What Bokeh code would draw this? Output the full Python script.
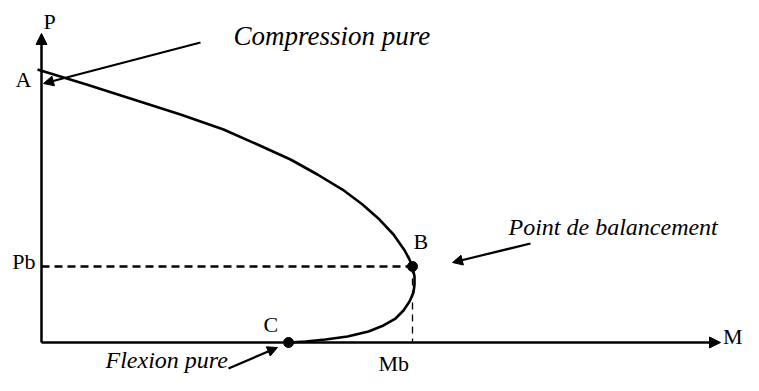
from bokeh.plotting import figure
from bokeh.models import Range1d, Arrow, NormalHead, Label
from bokeh.embed import file_html
from bokeh.resources import INLINE

# ---- interaction diagram data (normalised: Mb = 1, P at A = 1) ----
M_curve = [-0.0108, 0.1213, 0.2480, 0.3747, 0.4906, 0.5822, 0.6712, 0.7439,
           0.8113, 0.8652, 0.9111, 0.9488, 0.9771, 0.9906, 1.0000,
           1.0054, 1.0054, 1.0027, 0.9919, 0.9757, 0.9542, 0.9218, 0.8814,
           0.8248, 0.7655, 0.7116, 0.6658]
P_curve = [1.0000, 0.9451, 0.8901, 0.8352, 0.7802, 0.7253, 0.6703, 0.6154,
           0.5604, 0.5055, 0.4505, 0.3956, 0.3407, 0.3077, 0.2784,
           0.2418, 0.2125, 0.1832, 0.1502, 0.1172, 0.0879, 0.0623, 0.0403,
           0.0220, 0.0110, 0.0037, 0.0000]

Mb = 1.0
Pb = 0.2784
Mc = 0.6658
P_axis_top = 1.132
M_axis_end = 1.8302

point_names = ["A", "B", "C"]
axis_names = ["P", "M"]
tick_names = ["Pb", "Mb"]
notes = ["Compression pure", "Point de balancement", "Flexion pure"]

FONT = "Liberation Serif"

p = figure(width=743, height=375, output_backend="svg", toolbar_location=None,
           x_range=Range1d(-0.11051, 1.89218), y_range=Range1d(-0.12088, 1.25275),
           min_border=0, outline_line_color=None)
p.axis.visible = False
p.grid.visible = False
p.background_fill_color = "white"
p.border_fill_color = "white"

# axes with arrow heads
p.add_layout(Arrow(end=NormalHead(size=11, fill_color="black", line_color="black", line_width=1),
                   x_start=0, y_start=0, x_end=0, y_end=P_axis_top,
                   line_width=2.5, line_color="black"))
p.add_layout(Arrow(end=NormalHead(size=11, fill_color="black", line_color="black", line_width=1),
                   x_start=0, y_start=0, x_end=M_axis_end, y_end=0,
                   line_width=2.5, line_color="black"))

# dashed guides to B
p.line([0, Mb], [Pb, Pb], line_width=2.3, line_color="black", line_dash="8 5")
p.line([Mb, Mb], [Pb, 0], line_width=1.3, line_color="black", line_dash="7 5")

# interaction curve
p.line(M_curve, P_curve, line_width=2.6, line_color="black", line_join="round")

# points B and C
p.scatter([Mb, Mc], [Pb, 0], size=10, color="black")

def lab(x, y, t, size="22px", italic=False, align="left"):
    p.add_layout(Label(x=x, y=y, text=t, text_font=FONT, text_font_size=size,
                       text_font_style="italic" if italic else "normal",
                       text_align=align, text_baseline="alphabetic",
                       text_color="black"))

lab(0.0054, 1.1758, axis_names[0])
lab(1.8369, 0.0220, axis_names[1])
lab(-0.0701, 0.9634, point_names[0])
lab(1.0027, 0.3700, point_names[1])
lab(0.5984, 0.0659, point_names[2])
lab(-0.0162, 0.2967, tick_names[0], align="right")
lab(0.9084, -0.0769, tick_names[1])
lab(0.5175, 1.1209, notes[0], size="27px", italic=True)
lab(1.2588, 0.4249, notes[1], size="24px", italic=True)
lab(0.1725, -0.0659, notes[2], size="24px", italic=True)

# annotation arrows
def ann(x0, y0, x1, y1):
    p.add_layout(Arrow(end=NormalHead(size=10, fill_color="black", line_color="black", line_width=1),
                       x_start=x0, y_start=y0, x_end=x1, y_end=y1,
                       line_width=2.2, line_color="black"))

ann(0.4286, 1.0989, 0.0054, 0.9487)
ann(1.3181, 0.3626, 1.1078, 0.2930)
ann(0.5040, -0.0952, 0.6361, -0.0183)

open("out.html", "w").write(file_html(p, INLINE))
